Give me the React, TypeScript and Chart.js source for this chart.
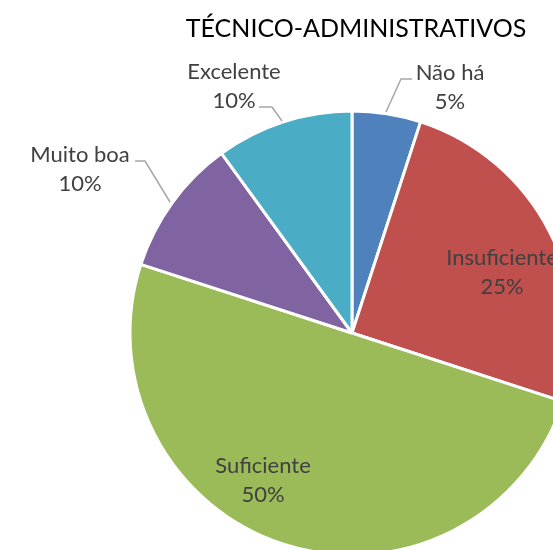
import React, { useEffect, useRef } from "react";
import { Chart, registerables } from "chart.js";

Chart.register(...registerables);

const title = "TÉCNICO-ADMINISTRATIVOS";
const categories = ["Não há", "Insuficiente", "Suficiente", "Muito boa", "Excelente"];
const values = [5, 25, 50, 10, 10];
const percentLabels = ["5%", "25%", "50%", "10%", "10%"];
const colors = ["#4F81BD", "#C0504D", "#9BBB59", "#8064A2", "#4BACC6"];

// label anchor offsets relative to pie centre (first line baseline centre)
const labelOffsets = [
  [98, -253],
  [150, -68],
  [-89, 140],
  [-272, -171],
  [-118, -254],
];
// leader lines (offsets relative to pie centre), null when label is inside
const leaders: (number[][] | null)[] = [
  [[34, -221], [49, -254], [60, -254]],
  null,
  null,
  [[-217, -172], [-207, -172], [-182, -131]],
  [[-93, -226], [-80, -226], [-70, -212]],
];

const FONT = "Lato, 'Open Sans', sans-serif";

const labelPlugin = {
  id: "excelLabels",
  afterDraw(chart: any) {
    const ctx = chart.ctx;
    const meta = chart.getDatasetMeta(0);
    const arc = meta.data[0];
    if (!arc) return;
    const cx = arc.x;
    const cy = arc.y;
    ctx.save();
    // title
    ctx.fillStyle = "#000000";
    ctx.font = `25px ${FONT}`;
    ctx.textAlign = "center";
    ctx.textBaseline = "alphabetic";
    ctx.fillText(title, cx + 4, cy - 296);
    // leaders
    ctx.strokeStyle = "#A6A6A6";
    ctx.lineWidth = 1.5;
    leaders.forEach((pts) => {
      if (!pts) return;
      ctx.beginPath();
      pts.forEach((p, i) => {
        if (i === 0) ctx.moveTo(cx + p[0], cy + p[1]);
        else ctx.lineTo(cx + p[0], cy + p[1]);
      });
      ctx.stroke();
    });
    // labels
    ctx.fillStyle = "#404040";
    ctx.font = `22px ${FONT}`;
    categories.forEach((c, i) => {
      const [dx, dy] = labelOffsets[i];
      ctx.fillText(c, cx + dx, cy + dy);
      ctx.fillText(percentLabels[i], cx + dx, cy + dy + 29);
    });
    ctx.restore();
  },
};

export default function App() {
  const ref = useRef<HTMLCanvasElement>(null);
  useEffect(() => {
    if (!ref.current) return;
    const chart = new Chart(ref.current, {
      type: "pie",
      data: {
        labels: categories,
        datasets: [
          {
            data: values,
            backgroundColor: colors,
            borderColor: "#FFFFFF",
            borderWidth: 3,
            radius: 222,
          } as any,
        ],
      },
      options: {
        responsive: false,
        animation: false,
        layout: { padding: 100 },
        plugins: {
          legend: { display: false },
          tooltip: { enabled: false },
          title: { display: false },
        },
      },
      plugins: [labelPlugin],
    });
    return () => chart.destroy();
  }, []);
  return (
    <div
      style={{
        position: "fixed",
        left: 0,
        top: 0,
        width: 553,
        height: 550,
        overflow: "hidden",
        background: "#FFFFFF",
      }}
    >
      <canvas
        ref={ref}
        width={800}
        height={800}
        style={{ position: "absolute", left: -48, top: -67, display: "block" }}
      />
    </div>
  );
}
